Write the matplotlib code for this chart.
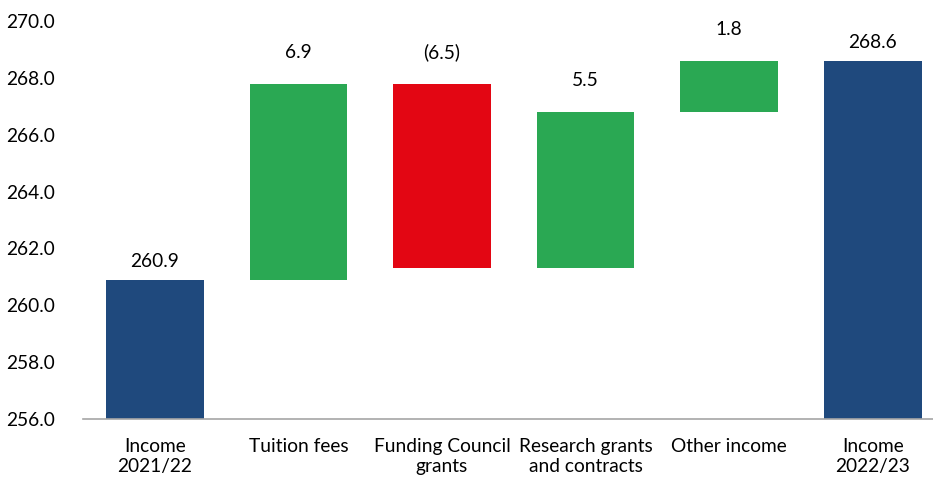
import matplotlib.pyplot as plt

plt.rcParams['font.family'] = ['Lato', 'DejaVu Sans']

# =========================================================
# Income bridge 2021/22 -> 2022/23 (£m)
# =========================================================

categories = [
    "Income\n2021/22",
    "Tuition fees",
    "Funding Council\ngrants",
    "Research grants\nand contracts",
    "Other income",
    "Income\n2022/23",
]
opening = 260.9
changes = [6.9, -6.5, 5.5, 1.8]
closing = 268.6

NAVY = "#1f497d"
GREEN = "#2aa853"
RED = "#e30613"
FS = 13.8


def fmt(v):
    return f"({abs(v):.1f})" if v < 0 else f"{v:.1f}"


fig = plt.figure(figsize=(9.33, 4.79), dpi=100)
ax = fig.add_axes([83 / 933, 1 - 419 / 479, (933 - 83) / 933, 398 / 479])

ymin = 256.0
width = 0.68

# totals
ax.bar(0, opening - ymin, bottom=ymin, width=width, color=NAVY)
ax.text(0, opening + 0.35, fmt(opening), ha="center", va="bottom", fontsize=FS)

# movements
level = opening
for i, c in enumerate(changes, start=1):
    lo, hi = sorted([level, level + c])
    ax.bar(i, hi - lo, bottom=lo, width=width, color=GREEN if c >= 0 else RED)
    ax.text(i, hi + 0.8, fmt(c), ha="center", va="bottom", fontsize=FS)
    level += c

n = len(categories) - 1
ax.bar(n, closing - ymin, bottom=ymin, width=width, color=NAVY)
ax.text(n, closing + 0.35, fmt(closing), ha="center", va="bottom", fontsize=FS)

ax.set_ylim(ymin, 270)
ax.set_xlim(-0.5, 5.42)
ax.set_yticks(range(256, 271, 2))
ax.set_yticklabels([f"{v:.1f}" for v in range(256, 271, 2)], fontsize=FS)
ax.set_xticks(range(len(categories)))
ax.set_xticklabels(categories, fontsize=FS, linespacing=1.15)

for s in ["top", "right", "left"]:
    ax.spines[s].set_visible(False)
ax.spines["bottom"].set_color("#a6a6a6")
ax.spines["bottom"].set_linewidth(1.2)
ax.tick_params(axis="both", length=0)
ax.tick_params(axis="x", pad=14)
ax.tick_params(axis="y", pad=20)

fig.savefig("out.png", dpi=100)
